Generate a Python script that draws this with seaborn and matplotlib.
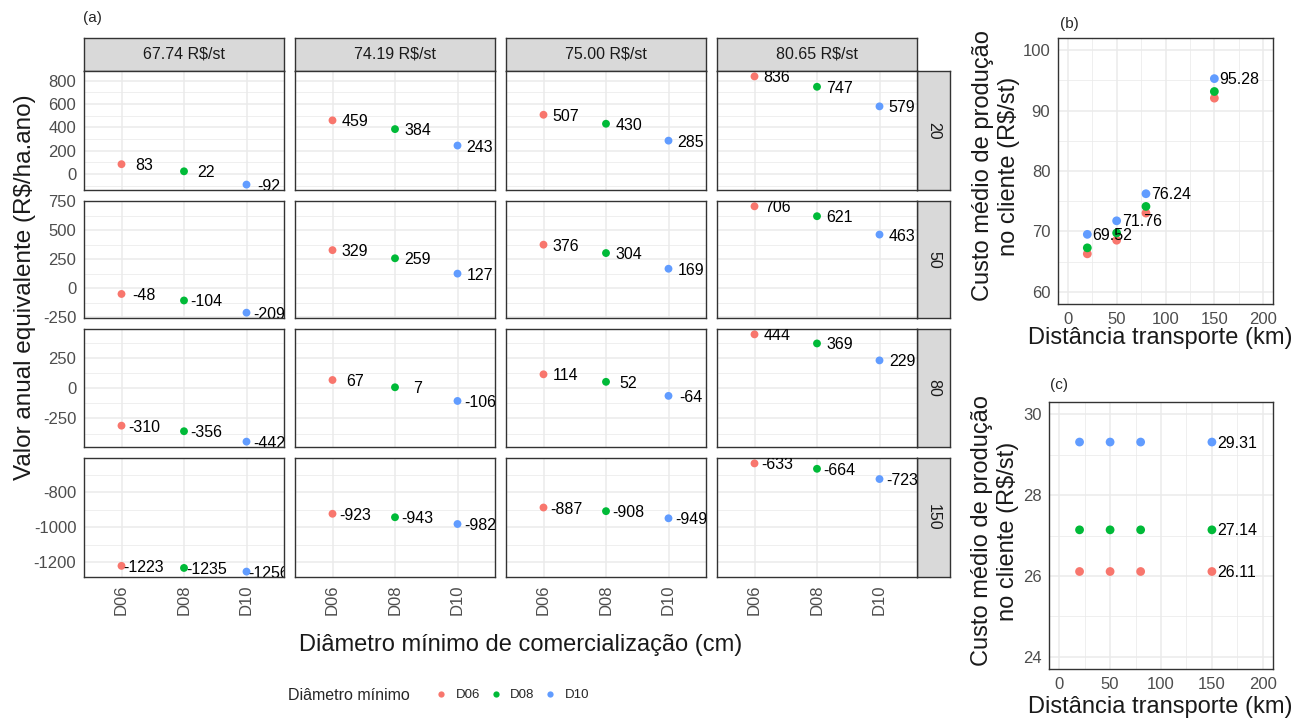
import numpy as np
import pandas as pd
import matplotlib
matplotlib.use('Agg')
import matplotlib.pyplot as plt
import matplotlib.transforms as mtransforms
from matplotlib.ticker import AutoMinorLocator, FixedLocator
from matplotlib.lines import Line2D
import seaborn as sns

# --- data ------------------------------------------------------------------
prices = ['67.74 R$/st', '74.19 R$/st', '75.00 R$/st', '80.65 R$/st']
distances = [20, 50, 80, 150]
diameters = ['D06', 'D08', 'D10']

# valor anual equivalente (R$/ha.ano), one list per distance, [price][diameter]
vae_d20 = [[83, 22, -92], [459, 384, 243], [507, 430, 285], [836, 747, 579]]
vae_d50 = [[-48, -104, -209], [329, 259, 127], [376, 304, 169], [706, 621, 463]]
vae_d80 = [[-310, -356, -442], [67, 7, -106], [114, 52, -64], [444, 369, 229]]
vae_d150 = [[-1223, -1235, -1256], [-923, -943, -982], [-887, -908, -949], [-633, -664, -723]]
row_ticks = [[0, 200, 400, 600, 800], [-250, 0, 250, 500, 750],
             [-250, 0, 250], [-1200, -1000, -800]]

# (b) custo medio de producao no cliente vs distancia
custo_b_d06 = [66.30, 68.55, 73.04, 92.05]
custo_b_d08 = [67.29, 69.75, 74.14, 93.15]
custo_b_d10 = [69.52, 71.76, 76.24, 95.28]
# (c)
custo_c_d06 = [26.11, 26.11, 26.11, 26.11]
custo_c_d08 = [27.14, 27.14, 27.14, 27.14]
custo_c_d10 = [29.31, 29.31, 29.31, 29.31]

pal = {'D06': '#F8766D', 'D08': '#00BA38', 'D10': '#619CFF'}

rows = []
for dist, block in zip(distances, [vae_d20, vae_d50, vae_d80, vae_d150]):
    for price, vals in zip(prices, block):
        for diam, v in zip(diameters, vals):
            rows.append({'dist': dist, 'price': price, 'diam': diam, 'vae': v})
df = pd.DataFrame(rows)

def cost_frame(d06, d08, d10):
    out = []
    for diam, vals in zip(diameters, [d06, d08, d10]):
        for dist, v in zip(distances, vals):
            out.append({'dist': dist, 'diam': diam, 'custo': v})
    return pd.DataFrame(out)

dfb = cost_frame(custo_b_d06, custo_b_d08, custo_b_d10)
dfc = cost_frame(custo_c_d06, custo_c_d08, custo_c_d10)

# --- figure ----------------------------------------------------------------
sns.set_theme(style='white')
plt.rcParams['font.family'] = ['Liberation Sans', 'DejaVu Sans']
plt.rcParams['axes.unicode_minus'] = False

W, H = 1309, 724
fig = plt.figure(figsize=(W / 100, H / 100), dpi=100)

def add_px(x0, y0, x1, y1):
    return fig.add_axes([x0 / W, 1 - y1 / H, (x1 - x0) / W, (y1 - y0) / H])

def style(ax, show_x, show_y):
    ax.set_facecolor('white')
    ax.set_axisbelow(True)
    for s in ax.spines.values():
        s.set_visible(True)
        s.set_color('#333333')
        s.set_linewidth(1.0)
    ax.grid(True, which='major', color='#EBEBEB', lw=1.1)
    ax.grid(True, which='minor', color='#EBEBEB', lw=0.55)
    ax.tick_params(which='major', direction='out', color='#333333', width=0.8,
                   labelsize=12, labelcolor='#4D4D4D', pad=2)
    ax.tick_params(which='minor', length=0)
    ax.tick_params(axis='x', which='major', length=3.5 if show_x else 0, labelbottom=show_x)
    ax.tick_params(axis='y', which='major', length=3.5 if show_y else 0, labelleft=show_y)
    ax.set_xlabel('')
    ax.set_ylabel('')

def strip(x0, y0, x1, y1, text, rotation=0):
    sa = add_px(x0, y0, x1, y1)
    sa.set_facecolor('#D9D9D9')
    sa.set_xticks([])
    sa.set_yticks([])
    for s in sa.spines.values():
        s.set_visible(True)
        s.set_color('#333333')
        s.set_linewidth(1.0)
    sa.text(0.5, 0.5, text, ha='center', va='center', rotation=rotation,
            fontsize=11.5, color='#1A1A1A', transform=sa.transAxes)

col_x = [(84, 284), (295, 495), (506, 706), (717, 917)]
row_y = [(71, 190), (201, 318), (329, 447), (458, 577)]

for j, price in enumerate(prices):
    strip(col_x[j][0], 38, col_x[j][1], 71, price)
for i, dist in enumerate(distances):
    strip(917, row_y[i][0], 950, row_y[i][1], str(dist), rotation=-90)

for i, dist in enumerate(distances):
    sub_row = df[df['dist'] == dist]
    lo, hi = sub_row['vae'].min(), sub_row['vae'].max()
    pad = 0.05 * (hi - lo)
    for j, price in enumerate(prices):
        ax = add_px(col_x[j][0], row_y[i][0], col_x[j][1], row_y[i][1])
        sub = sub_row[sub_row['price'] == price]
        sns.scatterplot(data=sub, x='diam', y='vae', hue='diam', palette=pal,
                        hue_order=diameters, s=32, edgecolor='none', legend=False, ax=ax)
        ax.set_xticks(range(len(diameters)))
        ax.set_xticklabels(diameters, rotation=90)
        ax.set_xlim(-0.6, len(diameters) - 0.4)
        ax.set_ylim(lo - pad, hi + pad)
        ax.yaxis.set_major_locator(FixedLocator(row_ticks[i]))
        ax.yaxis.set_minor_locator(AutoMinorLocator(2))
        style(ax, show_x=(i == len(distances) - 1), show_y=(j == 0))
        off = mtransforms.offset_copy(ax.transData, fig=fig, x=0, y=-1.5, units='dots')
        for d, v in zip(sub['diam'], sub['vae']):
            ax.text(diameters.index(d) + 0.36, v, str(v), ha='center', va='center',
                    fontsize=11.5, color='black', transform=off, clip_on=True)

fig.text(83 / W, 1 - 18 / H, '(a)', fontsize=11, ha='left', va='center')
fig.text(25 / W, 1 - 287 / H, 'Valor anual equivalente (R$/ha.ano)', rotation=90,
         ha='center', va='center', fontsize=17.5, color='#1A1A1A')
fig.text(521 / W, 1 - 645 / H, 'Diâmetro mínimo de comercialização (cm)',
         ha='center', va='center', fontsize=17, color='#1A1A1A')

# legend
fig.text(288 / W, 1 - 695 / H, 'Diâmetro mínimo', ha='left', va='center', fontsize=11.5)
handles = [Line2D([], [], marker='o', ls='', markersize=4.5, markerfacecolor=pal[d],
                  markeredgecolor='none', label=d) for d in diameters]
fig.legend(handles=handles, loc='center left', bbox_to_anchor=(437 / W, 1 - 695 / H),
           ncol=3, frameon=False, fontsize=9.5, handlelength=0.6, handletextpad=0.8,
           columnspacing=0.9, borderaxespad=0, borderpad=0)

# --- panels (b) and (c) ----------------------------------------------------
def cost_panel(box, data, ylim, yticks, label_pos):
    ax = add_px(*box)
    sns.scatterplot(data=data, x='dist', y='custo', hue='diam', palette=pal,
                    hue_order=diameters, s=40, edgecolor='none', legend=False, ax=ax)
    ax.set_xlim(-10, 210)
    ax.set_ylim(*ylim)
    ax.xaxis.set_major_locator(FixedLocator([0, 50, 100, 150, 200]))
    ax.yaxis.set_major_locator(FixedLocator(yticks))
    ax.xaxis.set_minor_locator(AutoMinorLocator(2))
    ax.yaxis.set_minor_locator(AutoMinorLocator(2))
    style(ax, True, True)
    off = mtransforms.offset_copy(ax.transData, fig=fig, x=5, y=-1, units='dots')
    lab = data[(data['diam'] == 'D10') & (data['dist'].isin(label_pos))]
    for x, y in zip(lab['dist'], lab['custo']):
        ax.text(x, y, f'{y:.2f}', ha='left', va='center', fontsize=11.5,
                color='black', transform=off)
    return ax

cost_panel((1058, 38, 1273, 304), dfb, (58, 102), [60, 70, 80, 90, 100], distances)
axc = cost_panel((1049, 402, 1273, 669), dfc, (23.7, 30.3), [24, 26, 28, 30], [150])
# (c) labels for the other diameters at 150 km
offc = mtransforms.offset_copy(axc.transData, fig=fig, x=5, y=-1, units='dots')
for d in ['D06', 'D08']:
    r = dfc[(dfc['diam'] == d) & (dfc['dist'] == 150)].iloc[0]
    axc.text(r['dist'], r['custo'], f"{r['custo']:.2f}", ha='left', va='center',
             fontsize=11.5, color='black', transform=offc)

fig.text(1060 / W, 1 - 24 / H, '(b)', fontsize=11, ha='left', va='center')
fig.text(1050 / W, 1 - 385 / H, '(c)', fontsize=11, ha='left', va='center')
ylab = 'Custo médio de produção\nno cliente (R$/st)'
fig.text(996 / W, 1 - 166 / H, ylab, rotation=90, ha='center', va='center',
         fontsize=17, linespacing=1.25, color='#1A1A1A')
fig.text(995 / W, 1 - 531 / H, ylab, rotation=90, ha='center', va='center',
         fontsize=17, linespacing=1.25, color='#1A1A1A')
fig.text(1160 / W, 1 - 338 / H, 'Distância transporte (km)', ha='center', va='center',
         fontsize=17, color='#1A1A1A')
fig.text(1160 / W, 1 - 707 / H, 'Distância transporte (km)', ha='center', va='center',
         fontsize=17, color='#1A1A1A')

fig.savefig('out.png', dpi=100, facecolor='white')
